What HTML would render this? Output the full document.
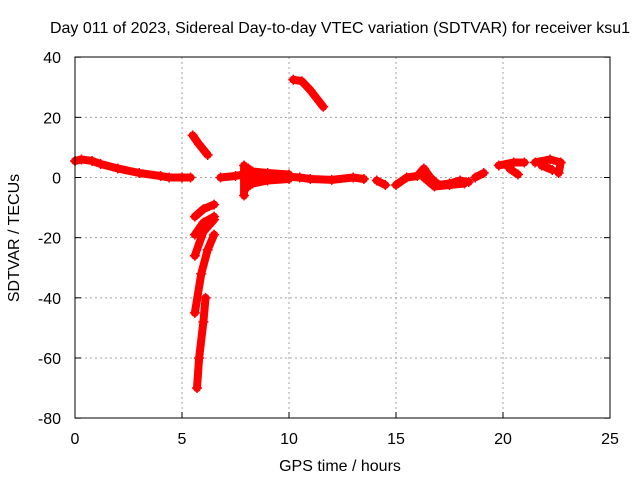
<!DOCTYPE html>
<html><head><meta charset="utf-8"><style>
body{margin:0;background:#fff}
svg{font-family:"Liberation Sans",sans-serif;font-size:16px}
</style></head><body>
<svg width="640" height="480" viewBox="0 0 640 480">
<text x="340" y="33" text-anchor="middle">Day 011 of 2023, Sidereal Day-to-day VTEC variation (SDTVAR) for receiver ksu1</text>
<g id="grid"></g>
<g id="axes"></g>
<g id="series"></g>
<rect x="75" y="57" width="535" height="361" fill="none" stroke="#000" stroke-width="1"/>
<text x="340" y="471" text-anchor="middle">GPS time / hours</text>
<text transform="translate(19,238) rotate(-90)" text-anchor="middle">SDTVAR / TECUs</text>
</svg>
<script>
const xTicks=[0,5,10,15,20,25];
const yTicks=[40,20,0,-20,-40,-60,-80];
const segA=[[0,5.5],[0.3,6],[0.8,5.5],[1.2,4.5],[2,3],[3,1.5],[4,0.5],[4.4,0],[5,0],[5.4,0]];
const segB=[[5.5,14],[5.8,11],[6.2,7.5]];
const segC=[[6.8,0],[7.5,0.5],[7.9,1],[8.5,0.5],[9.5,0.5],[10.5,0],[11,-0.5],[12,-0.8],[13,0],[13.5,-0.5]];
const segSpike=[[7.9,4],[7.9,-6]];
const segSpike2=[[8.1,3],[8.1,-3]];
const segFan=[[8.3,2],[9,1.5],[10,1]];
const segFan2=[[8.3,-2],[9,-1],[10,-0.5]];
const segD=[[10.2,32.5],[10.6,32],[11,29],[11.6,23.5]];
const segE=[[14.1,-1],[14.5,-2.5]];
const segF=[[15,-2.5],[15.5,0],[16,0.5],[16.3,3],[16.6,0],[17,-2.5],[17.5,-2],[18,-1],[18.4,-1.5]];
const segF2=[[16.3,0],[16.8,-3],[17.5,-2.5],[18.2,-2]];
const segF3=[[18.7,0],[19.1,1.5]];
const segG=[[19.8,4],[20.5,5],[21,5]];
const segG2=[[20.3,3],[20.7,1]];
const segH=[[21.5,5],[22.2,6],[22.7,5],[22.6,1.5]];
const segH2=[[21.8,4],[22.3,2.5]];
const segI1=[[5.6,-13],[6,-10.5],[6.5,-9]];
const segI2=[[5.6,-19],[6,-15],[6.5,-13]];
const segI3=[[5.6,-26],[6,-18],[6.5,-14]];
const segI4=[[5.6,-45],[5.9,-32],[6.2,-24],[6.5,-19]];
const segI5=[[5.7,-70],[5.8,-60],[6,-48],[6.1,-40]];
const segments=[segA,segB,segC,segSpike,segSpike2,segFan,segFan2,segD,segE,segF,segF2,segF3,segG,segG2,segH,segH2,segI1,segI2,segI3,segI4,segI5];
const NS='http://www.w3.org/2000/svg';
const X=h=>75+h*21.4;
const Y=v=>177.5-v*3.008;
const grid=document.getElementById('grid'),axes=document.getElementById('axes'),ser=document.getElementById('series');
function mk(t,a,p){const e=document.createElementNS(NS,t);for(const k in a)e.setAttribute(k,a[k]);p.appendChild(e);return e;}
xTicks.forEach(t=>{
  if(t>0&&t<25){const l=mk('line',{x1:X(t),x2:X(t),y1:57,y2:418,stroke:'#a0a0a0','stroke-dasharray':'2,3'},grid);
  
  }
  const tk=mk('line',{x1:X(t),x2:X(t),y1:418,y2:412,stroke:'#000'},axes);
  
  
  const tx=mk('text',{x:X(t),y:444,'text-anchor':'middle'},axes);tx.textContent=t;
  
  
});
yTicks.forEach(t=>{
  if(t<40&&t>-80){const l=mk('line',{x1:75,x2:610,y1:Y(t),y2:Y(t),stroke:'#a0a0a0','stroke-dasharray':'2,3'},grid);
  
  }
  const tk=mk('line',{x1:75,x2:81,y1:Y(t),y2:Y(t),stroke:'#000'},axes);
  
  
  const tk2=mk('line',{x1:604,x2:610,y1:Y(t),y2:Y(t),stroke:'#000'},axes);
  
  
  const tx=mk('text',{x:61,y:Y(t)+6,'text-anchor':'end'},axes);tx.textContent=t;
  
  
});
segments.forEach(s=>{
  const pl=mk('polyline',{points:s.map(p=>X(p[0])+','+Y(p[1])).join(' '),fill:'none',stroke:'#f00','stroke-width':8,'stroke-linecap':'round','stroke-linejoin':'round'},ser);
  
  
  s.forEach(p=>{
    const x=X(p[0]),y=Y(p[1]);
    const m=mk('path',{d:`M${x-5},${y}H${x+5}M${x},${y-5}V${y+5}`,stroke:'#f00','stroke-width':1.5},ser);
    
    
  });
});
</script>
</body></html>
